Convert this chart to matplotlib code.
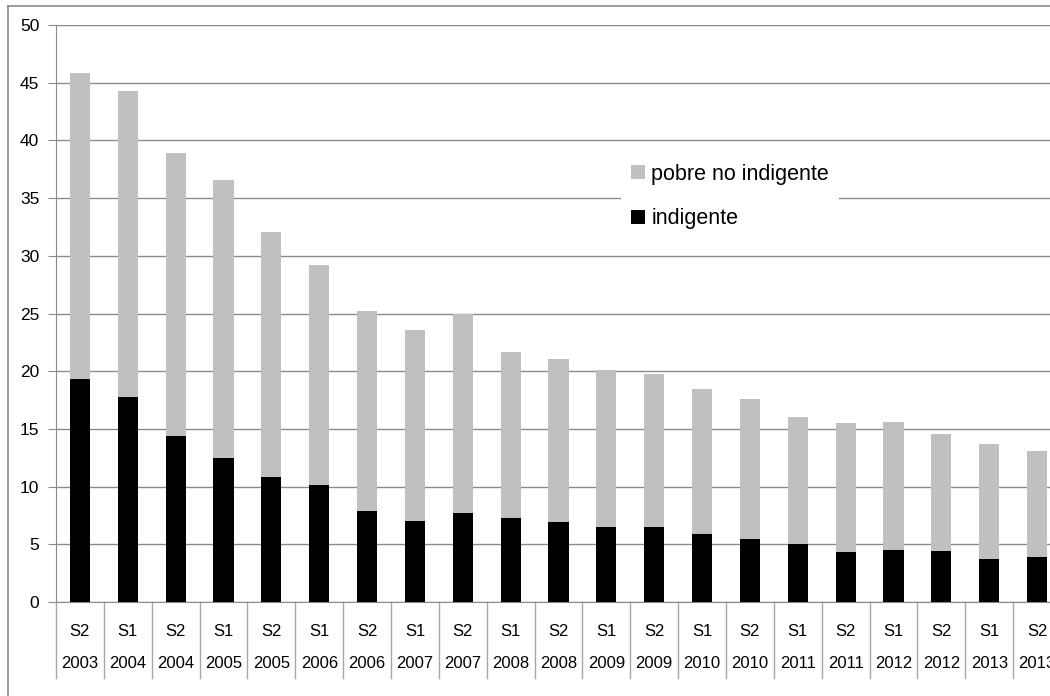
import matplotlib
matplotlib.use("Agg")
import matplotlib.pyplot as plt
from matplotlib.lines import Line2D
import numpy as np

semesters = ["S2", "S1", "S2", "S1", "S2", "S1", "S2", "S1", "S2", "S1", "S2",
             "S1", "S2", "S1", "S2", "S1", "S2", "S1", "S2", "S1", "S2"]
years = ["2003", "2004", "2004", "2005", "2005", "2006", "2006", "2007", "2007",
         "2008", "2008", "2009", "2009", "2010", "2010", "2011", "2011", "2012",
         "2012", "2013", "2013"]
total = [45.8, 44.3, 38.9, 36.6, 32.1, 29.2, 25.2, 23.6, 25.0, 21.7, 21.1,
         20.1, 19.8, 18.5, 17.6, 16.0, 15.5, 15.6, 14.6, 13.7, 13.1]
indigente = [19.3, 17.8, 14.4, 12.5, 10.8, 10.1, 7.9, 7.0, 7.7, 7.3, 6.9,
             6.5, 6.5, 5.9, 5.5, 5.0, 4.3, 4.5, 4.4, 3.7, 3.9]
pobre_no_indigente = [t - i for t, i in zip(total, indigente)]

W, H = 1050, 696
fig = plt.figure(figsize=(W / 100, H / 100), dpi=100)
fig.patch.set_facecolor("white")

left_px, right_px, top_px, bot_px = 56, 1061, 25, 602
ax = fig.add_axes([left_px / W, 1 - bot_px / H, (right_px - left_px) / W, (bot_px - top_px) / H])

x = np.arange(len(total))
grid_c = "#8a8a8a"
b1 = ax.bar(x, indigente, width=0.42, color="black", zorder=3, label="indigente")
b2 = ax.bar(x, pobre_no_indigente, width=0.42, bottom=indigente, color="#c0c0c0",
            zorder=3, label="pobre no indigente")

ax.set_xlim(-0.5, len(total) - 0.5)
ax.set_ylim(0, 50)
ax.set_yticks(np.arange(0, 51, 5))
ax.yaxis.grid(True, color=grid_c, linewidth=1)
ax.set_axisbelow(True)
for s in ["top", "right"]:
    ax.spines[s].set_visible(False)
ax.spines["left"].set_color(grid_c)
ax.spines["bottom"].set_color(grid_c)
ax.tick_params(axis="y", length=6, color=grid_c, labelsize=12.5, pad=6,
               labelfontfamily="Liberation Sans")
ax.set_xticks([])
ax.tick_params(axis="x", length=0)

# category labels and separators
trans = ax.get_xaxis_transform()
sep_bottom = -(678 - bot_px) / (bot_px - top_px)
for i in range(len(total) + 1):
    ax.plot([i - 0.5, i - 0.5], [0, sep_bottom], transform=trans, color="#a6a6a6",
            linewidth=1, clip_on=False)
y_s = -(632 - bot_px) / (bot_px - top_px)
y_y = -(664 - bot_px) / (bot_px - top_px)
for i in range(len(total)):
    ax.text(i, y_s, semesters[i], transform=trans, ha="center", va="center",
            fontsize=12, family="Liberation Sans", clip_on=False)
    ax.text(i, y_y, years[i], transform=trans, ha="center", va="center",
            fontsize=12, family="Liberation Sans", clip_on=False)

leg = ax.legend(handles=[b2, b1], loc="upper left",
                bbox_to_anchor=((621 - left_px) / (right_px - left_px), 1 - (154 - top_px) / (bot_px - top_px)),
                frameon=True, fancybox=False, framealpha=1, facecolor="white",
                edgecolor="none", prop={"family": "Liberation Sans", "size": 15.5},
                handlelength=0.65, handleheight=0.65, handletextpad=0.3,
                labelspacing=1.1, borderpad=0.45, borderaxespad=0)
leg.set_zorder(5)

# outer chart frame
fig.add_artist(Line2D([8 / W, 8 / W], [1 - 6 / H, 0], transform=fig.transFigure,
                      color="#8c8c8c", linewidth=1.2))
fig.add_artist(Line2D([8 / W, 1], [1 - 6 / H, 1 - 6 / H], transform=fig.transFigure,
                      color="#8c8c8c", linewidth=1.2))

fig.savefig("out.png", dpi=100, facecolor="white")
